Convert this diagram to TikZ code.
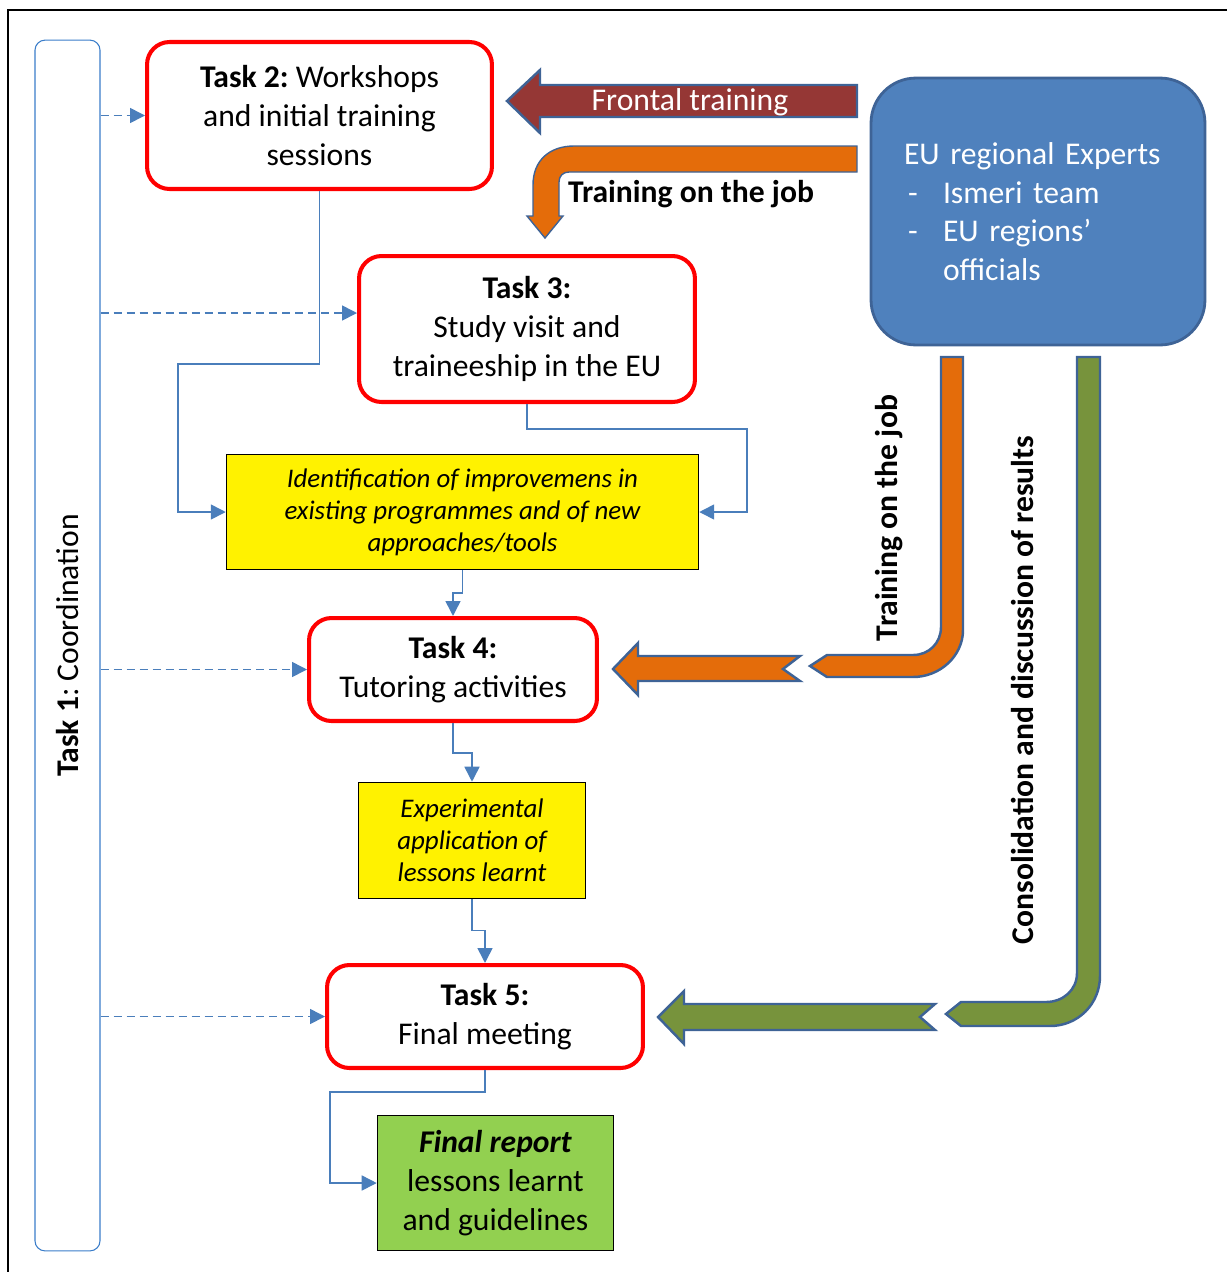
\documentclass[tikz,border=0pt]{standalone}
\usepackage{fontspec}
\setmainfont{Carlito}
\usetikzlibrary{arrows.meta,positioning}
\definecolor{taskred}{HTML}{FF0000}
\definecolor{linkblue}{HTML}{4A7EBB}
\definecolor{edgeblue}{HTML}{3E6396}
\definecolor{expertblue}{HTML}{4F81BD}
\definecolor{frontred}{HTML}{953735}
\definecolor{joborange}{HTML}{E46C0A}
\definecolor{resultgreen}{HTML}{77933C}
\definecolor{reportgreen}{HTML}{92D050}
\definecolor{coordblue}{HTML}{3A7DC9}
\frenchspacing

\begin{document}
\begin{tikzpicture}[x=0.02cm, y=-0.02cm,
      every node/.style={font=\fontsize{18}{22}\selectfont},
      taskbox/.style={
        rectangle, draw=taskred, line width=2.3pt, rounded corners=0.45cm,
        align=center, inner sep=0pt
      },
      notebox/.style={
        rectangle, draw=black, line width=0.9pt, fill=yellow,
        align=center, inner sep=0pt,
        font=\fontsize{15.3}{18.2}\selectfont\itshape
      },
      reportbox/.style={
        rectangle, draw=black, line width=0.9pt, fill=reportgreen,
        align=center, inner sep=0pt
      },
      expertbox/.style={
        rectangle, draw=edgeblue, line width=1.6pt, fill=expertblue,
        rounded corners=0.9cm, text=white, align=left,
        text width=5.36cm, inner xsep=0.66cm, inner ysep=0pt
      },
      coordbox/.style={
        rectangle, draw=coordblue, line width=0.6pt, rounded corners=0.2cm,
        inner sep=0pt
      },
      boldlabel/.style={font=\fontsize{18}{22}\selectfont\bfseries},
      blockarr/.style={draw=edgeblue, line width=1.4pt, line join=miter},
      link/.style={draw=linkblue, line width=0.9pt,
        -{Triangle[length=0.3cm, width=0.3cm]}},
      dashlink/.style={link, dash pattern=on 0.16cm off 0.1cm}
    ]

    \useasboundingbox (0,0) rectangle (1227,1272);
    \draw[line width=1.2pt] (8,10) rectangle (1260,1300);

    % ===== Coordination column =====
    \node[coordbox, minimum width=1.3cm, minimum height=24.22cm] (coord)
      at (67.5,645.5) {\rotatebox{90}{\textbf{Task 1}: Coordination}};

    % ===== Tasks and intermediate results =====
    \node[taskbox, minimum width=6.9cm, minimum height=2.94cm] (task2)
      at (319.5,115.5) {\textbf{Task 2:} Workshops\\and initial training\\sessions};
    \node[taskbox, minimum width=6.72cm, minimum height=2.92cm] (task3)
      at (527,329) {\textbf{Task 3:}\\Study visit and\\traineeship in the EU};
    \node[notebox, minimum width=9.44cm, minimum height=2.3cm] (ident)
      at (462.5,512) {Identification of improvemens in\\existing programmes and of new\\approaches/tools};
    \node[taskbox, minimum width=5.76cm, minimum height=2.06cm] (task4)
      at (453,669.5) {\textbf{Task 4:}\\Tutoring activities};
    \node[notebox, minimum width=4.54cm, minimum height=2.32cm] (exper)
      at (472,840.5) {Experimental\\application of\\lessons learnt};
    \node[taskbox, minimum width=6.32cm, minimum height=2.06cm] (task5)
      at (485,1016.5) {\textbf{Task 5:}\\Final meeting};
    \node[reportbox, minimum width=4.72cm, minimum height=2.7cm] (report)
      at (495.5,1183) {\textbf{\itshape Final report}\\lessons learnt\\and guidelines};

    % ===== EU experts =====
    \node[expertbox, minimum height=5.34cm] (experts) at (1038,211.5)
      {EU regional Experts\\
       \makebox[0.78cm][l]{\hspace{0.08cm}-}Ismeri team\\
       \makebox[0.78cm][l]{\hspace{0.08cm}-}EU regions’\\
       \hspace*{0.78cm}officials};

    % ===== Block arrows from the experts =====
    \draw[blockarr, fill=frontred] (857,85) -- (540,85) -- (540,70) -- (507,101)
      -- (540,133) -- (540,117) -- (857,117) -- cycle;
    \node[text=white] (frontal) at (690,102) {Frontal training};

    \draw[blockarr, line width=0.8pt, fill=joborange] (857,146) -- (574,146)
      .. controls (550,146) and (533,160) .. (533,185) -- (533,216) -- (527,216)
      -- (545,238) -- (563,216) -- (559,216) -- (559,182)
      .. controls (559,176) and (563,172) .. (569,172) -- (857,172) -- cycle;
    \node[boldlabel] (jobtop) at (691,194) {Training on the job};

    \draw[blockarr, fill=joborange] (941,357) -- (963,357) -- (963,630)
      .. controls (963,656) and (940,677) .. (913,677) -- (827,677) -- (810,666)
      -- (827,655) -- (913,655) .. controls (929,655) and (941,643) .. (941,627)
      -- cycle;
    \draw[blockarr, fill=joborange] (800,656) -- (638,656) -- (638,643) -- (613,669)
      -- (638,695) -- (638,681) -- (800,681) -- (783,669) -- cycle;
    \node[boldlabel, rotate=90] (jobside) at (889,518) {Training on the job};

    \draw[blockarr, fill=resultgreen] (1077,357) -- (1100,357) -- (1100,976)
      .. controls (1100,1004) and (1078,1026) .. (1050,1026) -- (961,1026)
      -- (946,1014) -- (961,1002) -- (1046,1002)
      .. controls (1063,1002) and (1077,990) .. (1077,973) -- cycle;
    \draw[blockarr, fill=resultgreen] (935,1004) -- (684,1004) -- (684,991)
      -- (658,1017) -- (684,1044) -- (684,1030) -- (935,1030) -- (920,1017) -- cycle;
    \node[boldlabel, rotate=90] (results) at (1022,690)
      {Consolidation and discussion of results};

    % ===== Flow between tasks =====
    \draw[link] (task2.south) |- (178,364) |- (ident.west);
    \draw[link] (task3.south) |- (747,429) |- (ident.east);
    \draw[link] (ident.south) -- ++(0,23) -| (task4.north);
    \draw[link] (task4.south) -- ++(0,30) -| (exper.north);
    \draw[link] (exper.south) -- ++(0,31) -| (task5.north);
    \draw[link] (task5.south) |- (330,1092) |- (report.west);

    % ===== Coordination links =====
    \coordinate (task3in) at ([yshift=0.32cm]task3.west);
    \draw[dashlink] (task2.west -| coord.east) -- (task2.west);
    \draw[dashlink] (task3in -| coord.east) -- (task3in);
    \draw[dashlink] (task4.west -| coord.east) -- (task4.west);
    \draw[dashlink] (task5.west -| coord.east) -- (task5.west);
  \end{tikzpicture}
\end{document}
